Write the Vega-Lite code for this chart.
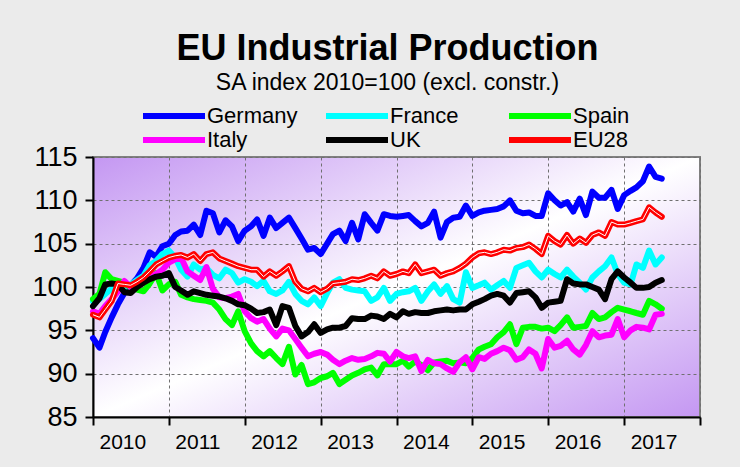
{
  "$schema": "https://vega.github.io/schema/vega-lite/v6.json",
  "width": 607,
  "height": 260,
  "autosize": {"type": "none"},
  "padding": {"left": 93, "top": 157, "right": 40, "bottom": 50},
  "background": "#ebebeb",
  "title": {
    "text": "EU Industrial Production",
    "subtitle": "SA index 2010=100 (excl. constr.)",
    "font": "Liberation Sans",
    "fontSize": 36,
    "fontWeight": "bold",
    "color": "#000000",
    "subtitleFont": "Liberation Sans",
    "subtitleFontSize": 23,
    "subtitleColor": "#000000",
    "subtitlePadding": 4,
    "anchor": "middle",
    "dx": -9,
    "offset": 9
  },
  "datasets": {
    "ip": [
      {"m":"2010-01","s":"Germany","v":94.1},{"m":"2010-02","s":"Germany","v":93.0},{"m":"2010-03","s":"Germany","v":94.8},{"m":"2010-04","s":"Germany","v":96.5},{"m":"2010-05","s":"Germany","v":98.0},{"m":"2010-06","s":"Germany","v":99.3},{"m":"2010-07","s":"Germany","v":100.2},{"m":"2010-08","s":"Germany","v":101.0},{"m":"2010-09","s":"Germany","v":102.2},{"m":"2010-10","s":"Germany","v":104.0},{"m":"2010-11","s":"Germany","v":103.5},{"m":"2010-12","s":"Germany","v":104.7},
      {"m":"2011-01","s":"Germany","v":105.0},{"m":"2011-02","s":"Germany","v":106.0},{"m":"2011-03","s":"Germany","v":106.4},{"m":"2011-04","s":"Germany","v":106.5},{"m":"2011-05","s":"Germany","v":107.2},{"m":"2011-06","s":"Germany","v":106.0},{"m":"2011-07","s":"Germany","v":108.8},{"m":"2011-08","s":"Germany","v":108.5},{"m":"2011-09","s":"Germany","v":106.3},{"m":"2011-10","s":"Germany","v":107.7},{"m":"2011-11","s":"Germany","v":107.0},{"m":"2011-12","s":"Germany","v":105.3},
      {"m":"2012-01","s":"Germany","v":106.5},{"m":"2012-02","s":"Germany","v":107.0},{"m":"2012-03","s":"Germany","v":107.8},{"m":"2012-04","s":"Germany","v":105.9},{"m":"2012-05","s":"Germany","v":108.0},{"m":"2012-06","s":"Germany","v":106.8},{"m":"2012-07","s":"Germany","v":107.4},{"m":"2012-08","s":"Germany","v":108.0},{"m":"2012-09","s":"Germany","v":106.8},{"m":"2012-10","s":"Germany","v":105.6},{"m":"2012-11","s":"Germany","v":104.3},{"m":"2012-12","s":"Germany","v":104.5},
      {"m":"2013-01","s":"Germany","v":103.8},{"m":"2013-02","s":"Germany","v":105.0},{"m":"2013-03","s":"Germany","v":106.1},{"m":"2013-04","s":"Germany","v":106.5},{"m":"2013-05","s":"Germany","v":105.3},{"m":"2013-06","s":"Germany","v":107.4},{"m":"2013-07","s":"Germany","v":105.5},{"m":"2013-08","s":"Germany","v":108.4},{"m":"2013-09","s":"Germany","v":107.4},{"m":"2013-10","s":"Germany","v":106.5},{"m":"2013-11","s":"Germany","v":108.4},{"m":"2013-12","s":"Germany","v":108.2},
      {"m":"2014-01","s":"Germany","v":108.1},{"m":"2014-02","s":"Germany","v":108.2},{"m":"2014-03","s":"Germany","v":108.3},{"m":"2014-04","s":"Germany","v":107.6},{"m":"2014-05","s":"Germany","v":107.0},{"m":"2014-06","s":"Germany","v":107.4},{"m":"2014-07","s":"Germany","v":108.7},{"m":"2014-08","s":"Germany","v":105.7},{"m":"2014-09","s":"Germany","v":107.5},{"m":"2014-10","s":"Germany","v":108.0},{"m":"2014-11","s":"Germany","v":108.1},{"m":"2014-12","s":"Germany","v":109.4},
      {"m":"2015-01","s":"Germany","v":108.2},{"m":"2015-02","s":"Germany","v":108.6},{"m":"2015-03","s":"Germany","v":108.8},{"m":"2015-04","s":"Germany","v":108.9},{"m":"2015-05","s":"Germany","v":109.0},{"m":"2015-06","s":"Germany","v":109.3},{"m":"2015-07","s":"Germany","v":110.0},{"m":"2015-08","s":"Germany","v":108.8},{"m":"2015-09","s":"Germany","v":108.5},{"m":"2015-10","s":"Germany","v":108.6},{"m":"2015-11","s":"Germany","v":108.2},{"m":"2015-12","s":"Germany","v":108.2},
      {"m":"2016-01","s":"Germany","v":110.8},{"m":"2016-02","s":"Germany","v":110.0},{"m":"2016-03","s":"Germany","v":109.4},{"m":"2016-04","s":"Germany","v":109.8},{"m":"2016-05","s":"Germany","v":108.7},{"m":"2016-06","s":"Germany","v":110.2},{"m":"2016-07","s":"Germany","v":108.3},{"m":"2016-08","s":"Germany","v":111.0},{"m":"2016-09","s":"Germany","v":110.3},{"m":"2016-10","s":"Germany","v":110.3},{"m":"2016-11","s":"Germany","v":111.2},{"m":"2016-12","s":"Germany","v":109.0},
      {"m":"2017-01","s":"Germany","v":110.6},{"m":"2017-02","s":"Germany","v":111.1},{"m":"2017-03","s":"Germany","v":111.5},{"m":"2017-04","s":"Germany","v":112.2},{"m":"2017-05","s":"Germany","v":113.9},{"m":"2017-06","s":"Germany","v":112.7},{"m":"2017-07","s":"Germany","v":112.5},

      {"m":"2010-01","s":"France","v":98.3},{"m":"2010-02","s":"France","v":98.6},{"m":"2010-03","s":"France","v":99.2},{"m":"2010-04","s":"France","v":99.8},{"m":"2010-05","s":"France","v":100.2},{"m":"2010-06","s":"France","v":100.0},{"m":"2010-07","s":"France","v":100.3},{"m":"2010-08","s":"France","v":100.8},{"m":"2010-09","s":"France","v":101.3},{"m":"2010-10","s":"France","v":102.5},{"m":"2010-11","s":"France","v":103.0},{"m":"2010-12","s":"France","v":103.8},
      {"m":"2011-01","s":"France","v":104.2},{"m":"2011-02","s":"France","v":103.4},{"m":"2011-03","s":"France","v":102.0},{"m":"2011-04","s":"France","v":101.2},{"m":"2011-05","s":"France","v":102.6},{"m":"2011-06","s":"France","v":102.0},{"m":"2011-07","s":"France","v":102.2},{"m":"2011-08","s":"France","v":101.4},{"m":"2011-09","s":"France","v":101.0},{"m":"2011-10","s":"France","v":102.0},{"m":"2011-11","s":"France","v":101.6},{"m":"2011-12","s":"France","v":100.5},
      {"m":"2012-01","s":"France","v":100.9},{"m":"2012-02","s":"France","v":100.6},{"m":"2012-03","s":"France","v":100.1},{"m":"2012-04","s":"France","v":100.7},{"m":"2012-05","s":"France","v":99.5},{"m":"2012-06","s":"France","v":99.2},{"m":"2012-07","s":"France","v":99.6},{"m":"2012-08","s":"France","v":100.6},{"m":"2012-09","s":"France","v":99.2},{"m":"2012-10","s":"France","v":98.4},{"m":"2012-11","s":"France","v":98.0},{"m":"2012-12","s":"France","v":98.8},
      {"m":"2013-01","s":"France","v":97.8},{"m":"2013-02","s":"France","v":99.3},{"m":"2013-03","s":"France","v":100.5},{"m":"2013-04","s":"France","v":100.9},{"m":"2013-05","s":"France","v":99.9},{"m":"2013-06","s":"France","v":99.7},{"m":"2013-07","s":"France","v":99.6},{"m":"2013-08","s":"France","v":99.5},{"m":"2013-09","s":"France","v":98.4},{"m":"2013-10","s":"France","v":98.8},{"m":"2013-11","s":"France","v":99.9},{"m":"2013-12","s":"France","v":98.4},
      {"m":"2014-01","s":"France","v":99.2},{"m":"2014-02","s":"France","v":99.4},{"m":"2014-03","s":"France","v":99.5},{"m":"2014-04","s":"France","v":99.9},{"m":"2014-05","s":"France","v":98.4},{"m":"2014-06","s":"France","v":99.5},{"m":"2014-07","s":"France","v":100.3},{"m":"2014-08","s":"France","v":99.2},{"m":"2014-09","s":"France","v":100.1},{"m":"2014-10","s":"France","v":98.6},{"m":"2014-11","s":"France","v":98.2},{"m":"2014-12","s":"France","v":101.7},
      {"m":"2015-01","s":"France","v":99.9},{"m":"2015-02","s":"France","v":100.2},{"m":"2015-03","s":"France","v":100.5},{"m":"2015-04","s":"France","v":99.7},{"m":"2015-05","s":"France","v":100.2},{"m":"2015-06","s":"France","v":100.7},{"m":"2015-07","s":"France","v":99.9},{"m":"2015-08","s":"France","v":102.2},{"m":"2015-09","s":"France","v":102.5},{"m":"2015-10","s":"France","v":102.8},{"m":"2015-11","s":"France","v":101.8},{"m":"2015-12","s":"France","v":101.1},
      {"m":"2016-01","s":"France","v":102.0},{"m":"2016-02","s":"France","v":101.5},{"m":"2016-03","s":"France","v":101.1},{"m":"2016-04","s":"France","v":102.0},{"m":"2016-05","s":"France","v":101.2},{"m":"2016-06","s":"France","v":100.5},{"m":"2016-07","s":"France","v":99.7},{"m":"2016-08","s":"France","v":101.1},{"m":"2016-09","s":"France","v":101.8},{"m":"2016-10","s":"France","v":102.4},{"m":"2016-11","s":"France","v":103.4},{"m":"2016-12","s":"France","v":101.5},
      {"m":"2017-01","s":"France","v":100.5},{"m":"2017-02","s":"France","v":100.3},{"m":"2017-03","s":"France","v":102.6},{"m":"2017-04","s":"France","v":102.2},{"m":"2017-05","s":"France","v":104.2},{"m":"2017-06","s":"France","v":102.6},{"m":"2017-07","s":"France","v":103.4},

      {"m":"2010-01","s":"Spain","v":98.6},{"m":"2010-02","s":"Spain","v":99.2},{"m":"2010-03","s":"Spain","v":101.7},{"m":"2010-04","s":"Spain","v":100.9},{"m":"2010-05","s":"Spain","v":100.7},{"m":"2010-06","s":"Spain","v":100.5},{"m":"2010-07","s":"Spain","v":99.9},{"m":"2010-08","s":"Spain","v":99.7},{"m":"2010-09","s":"Spain","v":99.5},{"m":"2010-10","s":"Spain","v":100.4},{"m":"2010-11","s":"Spain","v":101.6},{"m":"2010-12","s":"Spain","v":99.6},
      {"m":"2011-01","s":"Spain","v":100.3},{"m":"2011-02","s":"Spain","v":100.6},{"m":"2011-03","s":"Spain","v":99.1},{"m":"2011-04","s":"Spain","v":98.8},{"m":"2011-05","s":"Spain","v":98.6},{"m":"2011-06","s":"Spain","v":98.5},{"m":"2011-07","s":"Spain","v":98.4},{"m":"2011-08","s":"Spain","v":98.2},{"m":"2011-09","s":"Spain","v":97.4},{"m":"2011-10","s":"Spain","v":96.3},{"m":"2011-11","s":"Spain","v":95.6},{"m":"2011-12","s":"Spain","v":97.2},
      {"m":"2012-01","s":"Spain","v":94.9},{"m":"2012-02","s":"Spain","v":93.5},{"m":"2012-03","s":"Spain","v":92.6},{"m":"2012-04","s":"Spain","v":92.0},{"m":"2012-05","s":"Spain","v":92.6},{"m":"2012-06","s":"Spain","v":91.8},{"m":"2012-07","s":"Spain","v":91.1},{"m":"2012-08","s":"Spain","v":93.1},{"m":"2012-09","s":"Spain","v":89.9},{"m":"2012-10","s":"Spain","v":91.0},{"m":"2012-11","s":"Spain","v":88.8},{"m":"2012-12","s":"Spain","v":89.0},
      {"m":"2013-01","s":"Spain","v":89.5},{"m":"2013-02","s":"Spain","v":89.7},{"m":"2013-03","s":"Spain","v":90.1},{"m":"2013-04","s":"Spain","v":88.8},{"m":"2013-05","s":"Spain","v":89.3},{"m":"2013-06","s":"Spain","v":89.8},{"m":"2013-07","s":"Spain","v":90.1},{"m":"2013-08","s":"Spain","v":90.5},{"m":"2013-09","s":"Spain","v":90.7},{"m":"2013-10","s":"Spain","v":89.8},{"m":"2013-11","s":"Spain","v":91.1},{"m":"2013-12","s":"Spain","v":91.1},
      {"m":"2014-01","s":"Spain","v":91.1},{"m":"2014-02","s":"Spain","v":91.5},{"m":"2014-03","s":"Spain","v":90.8},{"m":"2014-04","s":"Spain","v":91.4},{"m":"2014-05","s":"Spain","v":91.0},{"m":"2014-06","s":"Spain","v":90.4},{"m":"2014-07","s":"Spain","v":91.3},{"m":"2014-08","s":"Spain","v":91.4},{"m":"2014-09","s":"Spain","v":91.5},{"m":"2014-10","s":"Spain","v":91.2},{"m":"2014-11","s":"Spain","v":91.3},{"m":"2014-12","s":"Spain","v":91.2},
      {"m":"2015-01","s":"Spain","v":91.8},{"m":"2015-02","s":"Spain","v":92.8},{"m":"2015-03","s":"Spain","v":93.1},{"m":"2015-04","s":"Spain","v":93.4},{"m":"2015-05","s":"Spain","v":94.2},{"m":"2015-06","s":"Spain","v":94.8},{"m":"2015-07","s":"Spain","v":95.7},{"m":"2015-08","s":"Spain","v":93.4},{"m":"2015-09","s":"Spain","v":95.3},{"m":"2015-10","s":"Spain","v":95.4},{"m":"2015-11","s":"Spain","v":95.4},{"m":"2015-12","s":"Spain","v":95.2},
      {"m":"2016-01","s":"Spain","v":95.3},{"m":"2016-02","s":"Spain","v":94.9},{"m":"2016-03","s":"Spain","v":95.6},{"m":"2016-04","s":"Spain","v":96.5},{"m":"2016-05","s":"Spain","v":95.3},{"m":"2016-06","s":"Spain","v":95.4},{"m":"2016-07","s":"Spain","v":95.5},{"m":"2016-08","s":"Spain","v":97.0},{"m":"2016-09","s":"Spain","v":96.3},{"m":"2016-10","s":"Spain","v":96.5},{"m":"2016-11","s":"Spain","v":97.1},{"m":"2016-12","s":"Spain","v":97.6},
      {"m":"2017-01","s":"Spain","v":97.4},{"m":"2017-02","s":"Spain","v":97.2},{"m":"2017-03","s":"Spain","v":97.0},{"m":"2017-04","s":"Spain","v":96.8},{"m":"2017-05","s":"Spain","v":98.4},{"m":"2017-06","s":"Spain","v":98.0},{"m":"2017-07","s":"Spain","v":97.5},

      {"m":"2010-01","s":"Italy","v":97.2},{"m":"2010-02","s":"Italy","v":96.9},{"m":"2010-03","s":"Italy","v":97.8},{"m":"2010-04","s":"Italy","v":98.6},{"m":"2010-05","s":"Italy","v":99.5},{"m":"2010-06","s":"Italy","v":100.7},{"m":"2010-07","s":"Italy","v":100.0},{"m":"2010-08","s":"Italy","v":100.2},{"m":"2010-09","s":"Italy","v":100.6},{"m":"2010-10","s":"Italy","v":101.2},{"m":"2010-11","s":"Italy","v":101.5},{"m":"2010-12","s":"Italy","v":102.0},
      {"m":"2011-01","s":"Italy","v":102.8},{"m":"2011-02","s":"Italy","v":103.2},{"m":"2011-03","s":"Italy","v":103.4},{"m":"2011-04","s":"Italy","v":101.8},{"m":"2011-05","s":"Italy","v":101.3},{"m":"2011-06","s":"Italy","v":100.8},{"m":"2011-07","s":"Italy","v":102.3},{"m":"2011-08","s":"Italy","v":99.8},{"m":"2011-09","s":"Italy","v":98.8},{"m":"2011-10","s":"Italy","v":98.7},{"m":"2011-11","s":"Italy","v":98.9},{"m":"2011-12","s":"Italy","v":99.2},
      {"m":"2012-01","s":"Italy","v":97.2},{"m":"2012-02","s":"Italy","v":96.4},{"m":"2012-03","s":"Italy","v":96.0},{"m":"2012-04","s":"Italy","v":96.3},{"m":"2012-05","s":"Italy","v":95.2},{"m":"2012-06","s":"Italy","v":94.3},{"m":"2012-07","s":"Italy","v":95.2},{"m":"2012-08","s":"Italy","v":95.0},{"m":"2012-09","s":"Italy","v":94.0},{"m":"2012-10","s":"Italy","v":93.0},{"m":"2012-11","s":"Italy","v":92.0},{"m":"2012-12","s":"Italy","v":92.3},
      {"m":"2013-01","s":"Italy","v":92.5},{"m":"2013-02","s":"Italy","v":92.2},{"m":"2013-03","s":"Italy","v":91.6},{"m":"2013-04","s":"Italy","v":91.1},{"m":"2013-05","s":"Italy","v":91.5},{"m":"2013-06","s":"Italy","v":91.8},{"m":"2013-07","s":"Italy","v":91.6},{"m":"2013-08","s":"Italy","v":91.7},{"m":"2013-09","s":"Italy","v":92.0},{"m":"2013-10","s":"Italy","v":92.4},{"m":"2013-11","s":"Italy","v":92.3},{"m":"2013-12","s":"Italy","v":91.4},
      {"m":"2014-01","s":"Italy","v":92.5},{"m":"2014-02","s":"Italy","v":92.0},{"m":"2014-03","s":"Italy","v":91.8},{"m":"2014-04","s":"Italy","v":92.0},{"m":"2014-05","s":"Italy","v":90.3},{"m":"2014-06","s":"Italy","v":91.6},{"m":"2014-07","s":"Italy","v":91.2},{"m":"2014-08","s":"Italy","v":91.1},{"m":"2014-09","s":"Italy","v":90.6},{"m":"2014-10","s":"Italy","v":90.2},{"m":"2014-11","s":"Italy","v":91.3},{"m":"2014-12","s":"Italy","v":91.9},
      {"m":"2015-01","s":"Italy","v":90.5},{"m":"2015-02","s":"Italy","v":91.9},{"m":"2015-03","s":"Italy","v":91.7},{"m":"2015-04","s":"Italy","v":92.3},{"m":"2015-05","s":"Italy","v":92.6},{"m":"2015-06","s":"Italy","v":93.0},{"m":"2015-07","s":"Italy","v":92.7},{"m":"2015-08","s":"Italy","v":91.6},{"m":"2015-09","s":"Italy","v":91.9},{"m":"2015-10","s":"Italy","v":92.8},{"m":"2015-11","s":"Italy","v":92.3},{"m":"2015-12","s":"Italy","v":90.6},
      {"m":"2016-01","s":"Italy","v":94.0},{"m":"2016-02","s":"Italy","v":93.0},{"m":"2016-03","s":"Italy","v":93.2},{"m":"2016-04","s":"Italy","v":93.8},{"m":"2016-05","s":"Italy","v":92.8},{"m":"2016-06","s":"Italy","v":92.2},{"m":"2016-07","s":"Italy","v":93.3},{"m":"2016-08","s":"Italy","v":94.9},{"m":"2016-09","s":"Italy","v":94.2},{"m":"2016-10","s":"Italy","v":94.4},{"m":"2016-11","s":"Italy","v":94.5},{"m":"2016-12","s":"Italy","v":96.3},
      {"m":"2017-01","s":"Italy","v":94.2},{"m":"2017-02","s":"Italy","v":95.0},{"m":"2017-03","s":"Italy","v":95.4},{"m":"2017-04","s":"Italy","v":95.3},{"m":"2017-05","s":"Italy","v":95.1},{"m":"2017-06","s":"Italy","v":96.8},{"m":"2017-07","s":"Italy","v":96.9},

      {"m":"2010-01","s":"UK","v":97.8},{"m":"2010-02","s":"UK","v":98.7},{"m":"2010-03","s":"UK","v":100.3},{"m":"2010-04","s":"UK","v":100.4},{"m":"2010-05","s":"UK","v":100.3},{"m":"2010-06","s":"UK","v":99.4},{"m":"2010-07","s":"UK","v":99.3},{"m":"2010-08","s":"UK","v":100.0},{"m":"2010-09","s":"UK","v":100.5},{"m":"2010-10","s":"UK","v":100.9},{"m":"2010-11","s":"UK","v":101.2},{"m":"2010-12","s":"UK","v":101.3},
      {"m":"2011-01","s":"UK","v":101.6},{"m":"2011-02","s":"UK","v":100.0},{"m":"2011-03","s":"UK","v":99.6},{"m":"2011-04","s":"UK","v":99.1},{"m":"2011-05","s":"UK","v":99.5},{"m":"2011-06","s":"UK","v":99.3},{"m":"2011-07","s":"UK","v":99.1},{"m":"2011-08","s":"UK","v":99.0},{"m":"2011-09","s":"UK","v":98.9},{"m":"2011-10","s":"UK","v":98.7},{"m":"2011-11","s":"UK","v":98.4},{"m":"2011-12","s":"UK","v":98.0},
      {"m":"2012-01","s":"UK","v":97.9},{"m":"2012-02","s":"UK","v":97.5},{"m":"2012-03","s":"UK","v":97.0},{"m":"2012-04","s":"UK","v":97.1},{"m":"2012-05","s":"UK","v":97.4},{"m":"2012-06","s":"UK","v":95.6},{"m":"2012-07","s":"UK","v":97.8},{"m":"2012-08","s":"UK","v":97.6},{"m":"2012-09","s":"UK","v":95.5},{"m":"2012-10","s":"UK","v":94.3},{"m":"2012-11","s":"UK","v":94.8},{"m":"2012-12","s":"UK","v":95.7},
      {"m":"2013-01","s":"UK","v":94.7},{"m":"2013-02","s":"UK","v":95.1},{"m":"2013-03","s":"UK","v":95.3},{"m":"2013-04","s":"UK","v":95.3},{"m":"2013-05","s":"UK","v":95.5},{"m":"2013-06","s":"UK","v":96.4},{"m":"2013-07","s":"UK","v":96.3},{"m":"2013-08","s":"UK","v":96.3},{"m":"2013-09","s":"UK","v":96.7},{"m":"2013-10","s":"UK","v":96.6},{"m":"2013-11","s":"UK","v":96.3},{"m":"2013-12","s":"UK","v":96.9},
      {"m":"2014-01","s":"UK","v":96.5},{"m":"2014-02","s":"UK","v":97.2},{"m":"2014-03","s":"UK","v":96.9},{"m":"2014-04","s":"UK","v":97.1},{"m":"2014-05","s":"UK","v":97.0},{"m":"2014-06","s":"UK","v":97.0},{"m":"2014-07","s":"UK","v":97.2},{"m":"2014-08","s":"UK","v":97.3},{"m":"2014-09","s":"UK","v":97.4},{"m":"2014-10","s":"UK","v":97.3},{"m":"2014-11","s":"UK","v":97.4},{"m":"2014-12","s":"UK","v":97.4},
      {"m":"2015-01","s":"UK","v":98.0},{"m":"2015-02","s":"UK","v":98.3},{"m":"2015-03","s":"UK","v":98.6},{"m":"2015-04","s":"UK","v":99.0},{"m":"2015-05","s":"UK","v":99.2},{"m":"2015-06","s":"UK","v":99.0},{"m":"2015-07","s":"UK","v":98.2},{"m":"2015-08","s":"UK","v":99.3},{"m":"2015-09","s":"UK","v":99.4},{"m":"2015-10","s":"UK","v":99.5},{"m":"2015-11","s":"UK","v":98.8},{"m":"2015-12","s":"UK","v":97.6},
      {"m":"2016-01","s":"UK","v":98.2},{"m":"2016-02","s":"UK","v":98.3},{"m":"2016-03","s":"UK","v":98.4},{"m":"2016-04","s":"UK","v":100.9},{"m":"2016-05","s":"UK","v":100.4},{"m":"2016-06","s":"UK","v":100.3},{"m":"2016-07","s":"UK","v":100.3},{"m":"2016-08","s":"UK","v":100.0},{"m":"2016-09","s":"UK","v":99.7},{"m":"2016-10","s":"UK","v":98.6},{"m":"2016-11","s":"UK","v":100.9},{"m":"2016-12","s":"UK","v":101.8},
      {"m":"2017-01","s":"UK","v":101.1},{"m":"2017-02","s":"UK","v":100.5},{"m":"2017-03","s":"UK","v":99.9},{"m":"2017-04","s":"UK","v":99.9},{"m":"2017-05","s":"UK","v":100.0},{"m":"2017-06","s":"UK","v":100.5},{"m":"2017-07","s":"UK","v":100.8},

      {"m":"2010-01","s":"EU28","v":96.8},{"m":"2010-02","s":"EU28","v":96.5},{"m":"2010-03","s":"EU28","v":97.4},{"m":"2010-04","s":"EU28","v":98.4},{"m":"2010-05","s":"EU28","v":100.4},{"m":"2010-06","s":"EU28","v":100.3},{"m":"2010-07","s":"EU28","v":100.2},{"m":"2010-08","s":"EU28","v":100.6},{"m":"2010-09","s":"EU28","v":101.1},{"m":"2010-10","s":"EU28","v":101.8},{"m":"2010-11","s":"EU28","v":102.6},{"m":"2010-12","s":"EU28","v":103.0},
      {"m":"2011-01","s":"EU28","v":103.4},{"m":"2011-02","s":"EU28","v":103.6},{"m":"2011-03","s":"EU28","v":103.7},{"m":"2011-04","s":"EU28","v":103.4},{"m":"2011-05","s":"EU28","v":103.8},{"m":"2011-06","s":"EU28","v":103.0},{"m":"2011-07","s":"EU28","v":103.8},{"m":"2011-08","s":"EU28","v":104.0},{"m":"2011-09","s":"EU28","v":103.3},{"m":"2011-10","s":"EU28","v":103.0},{"m":"2011-11","s":"EU28","v":102.7},{"m":"2011-12","s":"EU28","v":102.4},
      {"m":"2012-01","s":"EU28","v":102.2},{"m":"2012-02","s":"EU28","v":102.0},{"m":"2012-03","s":"EU28","v":102.0},{"m":"2012-04","s":"EU28","v":101.2},{"m":"2012-05","s":"EU28","v":101.8},{"m":"2012-06","s":"EU28","v":101.3},{"m":"2012-07","s":"EU28","v":101.8},{"m":"2012-08","s":"EU28","v":102.4},{"m":"2012-09","s":"EU28","v":100.6},{"m":"2012-10","s":"EU28","v":99.8},{"m":"2012-11","s":"EU28","v":99.5},{"m":"2012-12","s":"EU28","v":99.9},
      {"m":"2013-01","s":"EU28","v":99.4},{"m":"2013-02","s":"EU28","v":99.8},{"m":"2013-03","s":"EU28","v":100.4},{"m":"2013-04","s":"EU28","v":100.5},{"m":"2013-05","s":"EU28","v":100.6},{"m":"2013-06","s":"EU28","v":100.9},{"m":"2013-07","s":"EU28","v":100.8},{"m":"2013-08","s":"EU28","v":101.0},{"m":"2013-09","s":"EU28","v":101.3},{"m":"2013-10","s":"EU28","v":101.0},{"m":"2013-11","s":"EU28","v":101.8},{"m":"2013-12","s":"EU28","v":101.3},
      {"m":"2014-01","s":"EU28","v":101.5},{"m":"2014-02","s":"EU28","v":101.8},{"m":"2014-03","s":"EU28","v":101.6},{"m":"2014-04","s":"EU28","v":102.6},{"m":"2014-05","s":"EU28","v":101.6},{"m":"2014-06","s":"EU28","v":101.8},{"m":"2014-07","s":"EU28","v":102.0},{"m":"2014-08","s":"EU28","v":101.3},{"m":"2014-09","s":"EU28","v":101.6},{"m":"2014-10","s":"EU28","v":101.8},{"m":"2014-11","s":"EU28","v":102.2},{"m":"2014-12","s":"EU28","v":102.7},
      {"m":"2015-01","s":"EU28","v":103.4},{"m":"2015-02","s":"EU28","v":103.9},{"m":"2015-03","s":"EU28","v":104.0},{"m":"2015-04","s":"EU28","v":103.8},{"m":"2015-05","s":"EU28","v":104.0},{"m":"2015-06","s":"EU28","v":104.3},{"m":"2015-07","s":"EU28","v":104.2},{"m":"2015-08","s":"EU28","v":104.5},{"m":"2015-09","s":"EU28","v":104.6},{"m":"2015-10","s":"EU28","v":104.9},{"m":"2015-11","s":"EU28","v":104.4},{"m":"2015-12","s":"EU28","v":103.8},
      {"m":"2016-01","s":"EU28","v":105.9},{"m":"2016-02","s":"EU28","v":105.3},{"m":"2016-03","s":"EU28","v":104.9},{"m":"2016-04","s":"EU28","v":106.0},{"m":"2016-05","s":"EU28","v":105.0},{"m":"2016-06","s":"EU28","v":105.6},{"m":"2016-07","s":"EU28","v":105.1},{"m":"2016-08","s":"EU28","v":106.0},{"m":"2016-09","s":"EU28","v":106.3},{"m":"2016-10","s":"EU28","v":105.9},{"m":"2016-11","s":"EU28","v":107.5},{"m":"2016-12","s":"EU28","v":107.2},
      {"m":"2017-01","s":"EU28","v":107.2},{"m":"2017-02","s":"EU28","v":107.4},{"m":"2017-03","s":"EU28","v":107.6},{"m":"2017-04","s":"EU28","v":107.8},{"m":"2017-05","s":"EU28","v":109.2},{"m":"2017-06","s":"EU28","v":108.6},{"m":"2017-07","s":"EU28","v":108.1}
    ]
  },
  "data": {"name": "ip"},
  "layer": [
    {
      "mark": {"type": "line", "strokeWidth": 6, "strokeJoin": "round", "strokeCap": "round"},
      "encoding": {
        "x": {
          "field": "m",
          "type": "temporal",
          "scale": {"type": "utc", "domain": [{"year": 2010, "month": 1, "date": 1, "utc": true}, {"year": 2018, "month": 1, "date": 1, "utc": true}]},
          "axis": {
            "title": null,
            "values": [{"year": 2010, "utc": true}, {"year": 2011, "utc": true}, {"year": 2012, "utc": true}, {"year": 2013, "utc": true}, {"year": 2014, "utc": true}, {"year": 2015, "utc": true}, {"year": 2016, "utc": true}, {"year": 2017, "utc": true}, {"year": 2018, "utc": true}],
            "labelExpr": "utcyear(datum.value) > 2017 ? '' : utcFormat(datum.value, '%Y')",
            "labelAlign": "left",
            "labelOffset": 6,
            "labelPadding": 6,
            "labelFontSize": 21,
            "labelColor": "#000000",
            "labelFont": "Liberation Sans",
            "tickSize": 8,
            "tickWidth": 2,
            "tickColor": "#000000",
            "domainColor": "#000000",
            "domainWidth": 2,
            "grid": true,
            "gridColor": "#707070",
            "gridDash": [3, 3],
            "gridWidth": 1
          }
        },
        "y": {
          "field": "v",
          "type": "quantitative",
          "scale": {"domain": [85, 115], "nice": false, "zero": false},
          "axis": {
            "title": null,
            "values": [85, 90, 95, 100, 105, 110, 115],
            "labelFontSize": 27,
            "labelPadding": 8,
            "labelColor": "#000000",
            "labelFont": "Liberation Sans",
            "tickSize": 8,
            "tickWidth": 2,
            "tickColor": "#000000",
            "domainColor": "#000000",
            "domainWidth": 2,
            "grid": true,
            "gridColor": "#707070",
            "gridDash": [3, 3],
            "gridWidth": 1
          }
        },
        "color": {
          "field": "s",
          "type": "nominal",
          "scale": {
            "domain": ["Germany", "France", "Spain", "Italy", "UK", "EU28"],
            "range": ["#0000ff", "#00ffff", "#00ff00", "#ff00ff", "#000000", "#ff0000"]
          },
          "legend": {
            "title": null,
            "orient": "none",
            "legendX": 70,
            "legendY": -52,
            "direction": "horizontal",
            "columns": 3,
            "gridAlign": "all",
            "columnPadding": 15,
            "rowPadding": 0,
            "padding": 0,
            "symbolType": "M-5.1667,0H5.1667",
            "symbolSize": 144,
            "symbolStrokeWidth": 6,
            "labelFontSize": 22,
            "labelFont": "Liberation Sans",
            "labelOffset": 22,
            "labelColor": "#000000"
          }
        }
      }
    },
    {
      "transform": [{"filter": "datum.s === 'EU28'"}],
      "mark": {"type": "line", "strokeWidth": 1, "color": "#ffffff", "strokeJoin": "round"},
      "encoding": {
        "x": {"field": "m", "type": "temporal"},
        "y": {"field": "v", "type": "quantitative"}
      }
    }
  ],
  "config": {
    "view": {
      "fill": {
        "gradient": "linear",
        "x1": 0, "y1": 0, "x2": 1, "y2": 1,
        "stops": [
          {"offset": 0, "color": "#c497f2"},
          {"offset": 0.5, "color": "#ffffff"},
          {"offset": 1, "color": "#c497f2"}
        ]
      },
      "stroke": "#808080",
      "strokeWidth": 2
    },
    "font": "Liberation Sans"
  }
}
